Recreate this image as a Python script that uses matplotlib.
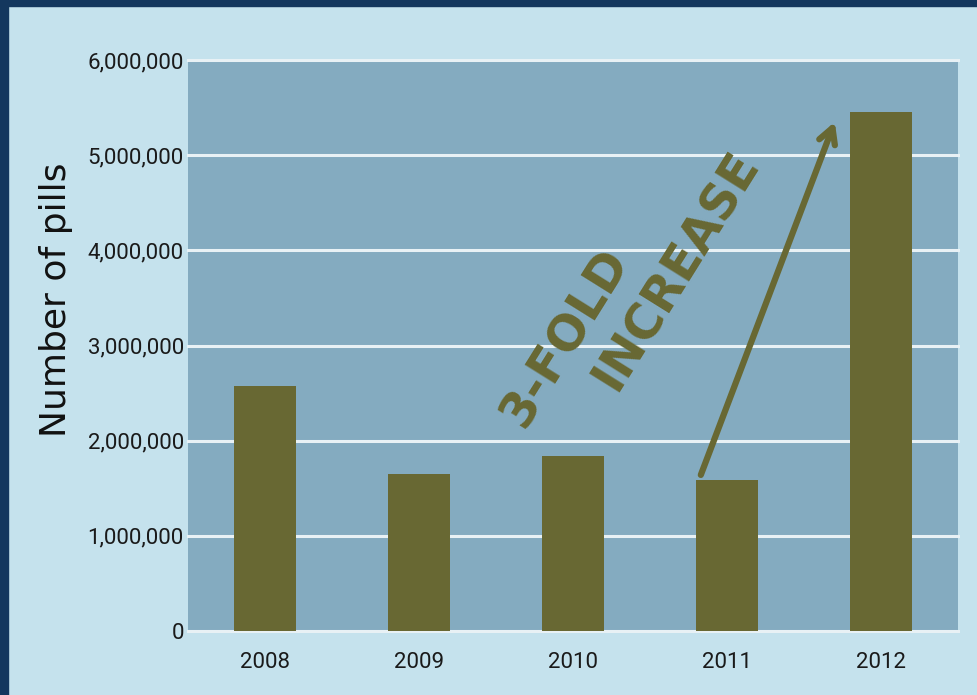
import matplotlib
matplotlib.use("Agg")
import matplotlib.pyplot as plt
from matplotlib.ticker import FuncFormatter

years = ["2008", "2009", "2010", "2011", "2012"]
pills = [2570000, 1650000, 1840000, 1590000, 5450000]
yticks = [0, 1000000, 2000000, 3000000, 4000000, 5000000, 6000000]

NAVY = "#14375e"
OUTER = "#c5e2ed"
PLOT = "#84abc0"
OLIVE = "#686833"

W, H = 977, 695
fig = plt.figure(figsize=(W / 100, H / 100), dpi=100)
fig.patch.set_facecolor(OUTER)

# navy frame at top and left
fig.add_artist(plt.Rectangle((0, 1 - 6 / H), 1, 6 / H, transform=fig.transFigure,
                             color=NAVY, zorder=0))
fig.add_artist(plt.Rectangle((0, 0), 8 / W, 1, transform=fig.transFigure,
                             color=NAVY, zorder=0))

left, right, top, bottom = 188, 958, 60, 631
ax = fig.add_axes([left / W, 1 - bottom / H, (right - left) / W, (bottom - top) / H])
ax.set_facecolor(PLOT)

x = list(range(len(years)))
ax.bar(x, pills, width=0.40, color=OLIVE, zorder=3)

ax.set_xlim(-0.5, len(years) - 0.5)
ax.set_ylim(0, 6000000)
ax.set_yticks(yticks)
ax.yaxis.set_major_formatter(FuncFormatter(lambda v, p: f"{int(v):,}"))
ax.set_xticks(x)
ax.set_xticklabels(years)

for yv in yticks:
    ax.axhline(yv, color="#e8f1f5", lw=2.2, zorder=2, clip_on=False)

for s in ax.spines.values():
    s.set_visible(False)
ax.tick_params(length=0)
tick_font = ["Roboto", "DejaVu Sans"]
for lab in ax.get_yticklabels() + ax.get_xticklabels():
    lab.set_family(tick_font)
    lab.set_fontsize(16)
    lab.set_color("#1a1a1a")
ax.tick_params(axis="y", pad=3)
ax.tick_params(axis="x", pad=15)

ax.set_ylabel("Number of pills", fontsize=26, family=["DejaVu Sans"],
              color="#111111")
ax.yaxis.set_label_coords(-(left - 73) / (right - left), (bottom - 300) / (bottom - top))

# arrow
ax.annotate("", xy=(3.70, 5350000), xytext=(2.83, 1640000),
            arrowprops=dict(arrowstyle="->,head_length=1.1,head_width=0.6",
                            color=OLIVE, lw=4.5, shrinkA=0, shrinkB=0,
                            capstyle="round", joinstyle="round"),
            zorder=5)

txt_kw = dict(rotation=58, rotation_mode="anchor", ha="center", va="center",
              color=OLIVE, fontsize=35, fontweight="bold",
              family=["DejaVu Sans"], zorder=6)
ax.text(1.948, 3080000, "3-FOLD", **txt_kw)
ax.text(2.669, 3790000, "INCREASE", **txt_kw)

fig.savefig("out.png", dpi=100, facecolor=OUTER)
